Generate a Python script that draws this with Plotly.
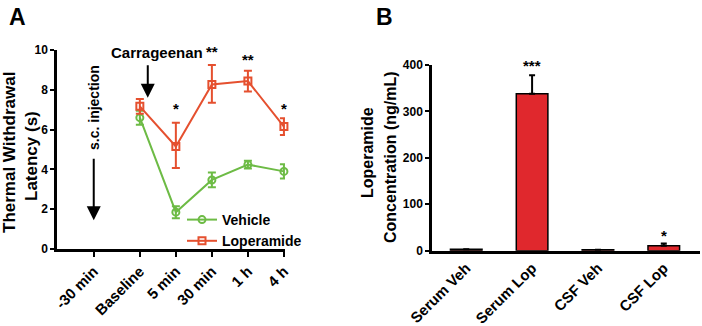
import plotly.graph_objects as go

# ---------------- data ----------------
time_labels = ["-30 min", "Baseline", "5 min", "30 min", "1 h", "4 h"]
time_pos = [-1.28, 0, 1, 2, 3, 4]

veh_time = ["Baseline", "5 min", "30 min", "1 h", "4 h"]
veh_pos = [0, 1, 2, 3, 4]
vehicle = [6.6, 1.85, 3.47, 4.24, 3.9]
vehicle_err = [0.35, 0.3, 0.37, 0.2, 0.36]

loperamide = [7.17, 5.15, 8.27, 8.44, 6.15]
lop_err_plus = [0.37, 1.2, 0.98, 0.52, 0.42]
lop_err_minus = [0.37, 1.08, 0.92, 0.52, 0.42]

stars_a = ["", "*", "**", "**", "*"]
stars_a_y = [0, 7.05, 9.9, 9.5, 7.05]

bar_cats = ["Serum Veh", "Serum Lop", "CSF Veh", "CSF Lop"]
bar_vals = [3, 338, 2, 10.5]
bar_err = [0, 40, 0, 5]
stars_b = ["", "***", "", "*"]
stars_b_y = [0, 398, 0, 33]

# ---------------- style ----------------
W, H = 702, 326
RED = "#E5502F"
GREEN = "#6DBB45"
BAR = "#E0282D"
FONT = "Liberation Sans, Arial, sans-serif"

def px(x):
    return x / W

def py(y):
    return 1 - y / H

fig = go.Figure()

fig.add_trace(go.Scatter(
    x=veh_pos, y=vehicle, name="Vehicle", mode="lines+markers",
    line=dict(color=GREEN, width=2),
    marker=dict(symbol="circle-open", size=7, color=GREEN, line=dict(width=2)),
    error_y=dict(type="data", array=vehicle_err, color=GREEN, thickness=2, width=4),
    xaxis="x", yaxis="y", cliponaxis=False,
))
fig.add_trace(go.Scatter(
    x=veh_pos, y=loperamide, name="Loperamide", mode="lines+markers",
    line=dict(color=RED, width=2),
    marker=dict(symbol="square-open", size=7, color=RED, line=dict(width=2)),
    error_y=dict(type="data", symmetric=False, array=lop_err_plus,
                 arrayminus=lop_err_minus, color=RED, thickness=2, width=4),
    xaxis="x", yaxis="y", cliponaxis=False,
))

fig.add_trace(go.Bar(
    x=list(range(len(bar_cats))), y=bar_vals, width=0.48,
    marker=dict(color=BAR, line=dict(color="black", width=1.5)),
    error_y=dict(type="data", symmetric=False, array=bar_err,
                 arrayminus=[0] * len(bar_err), color="black", thickness=2, width=3),
    xaxis="x2", yaxis="y2", showlegend=False, cliponaxis=False,
))

axis_common = dict(showline=True, linecolor="black", linewidth=2.5, showgrid=False,
                   zeroline=False, ticks="outside", tickcolor="black", tickwidth=2,
                   automargin=False,
                   tickfont=dict(family=FONT, size=12, color="black", weight="bold"))

fig.update_layout(
    template="none",
    width=W, height=H, margin=dict(l=0, r=0, t=0, b=0, autoexpand=False),
    paper_bgcolor="white", plot_bgcolor="white",
    font=dict(family=FONT, color="black"),
    xaxis=dict(axis_common, domain=[px(57), px(285)], range=[-2.3, 4.03],
               tickvals=time_pos, ticktext=time_labels, tickangle=-45, ticklen=5,
               tickfont=dict(family=FONT, size=15, color="black", weight="bold"),
               anchor="y"),
    yaxis=dict(axis_common, domain=[py(249), py(50)], range=[0, 10],
               tickvals=[0, 2, 4, 6, 8, 10], ticklen=4, anchor="x"),
    xaxis2=dict(axis_common, domain=[px(432), px(700)], range=[-0.52, 3.55],
                tickvals=list(range(len(bar_cats))), ticktext=bar_cats, tickangle=-45,
                ticks="", tickfont=dict(family=FONT, size=15, color="black", weight="bold"),
                anchor="y2"),
    yaxis2=dict(axis_common, domain=[py(250.7), py(65)], range=[0, 400],
                tickvals=[0, 100, 200, 300, 400], ticklen=4, anchor="x2"),
    legend=dict(x=px(182), y=py(204), xanchor="left", yanchor="top",
                bgcolor="rgba(0,0,0,0)", tracegroupgap=0, itemwidth=30,
                font=dict(family=FONT, size=14, color="black", weight="bold")),
    showlegend=True,
)

ann = []
def text(x, y, s, size, xref="paper", yref="paper", angle=0, **kw):
    ann.append(dict(x=x, y=y, xref=xref, yref=yref, text=s, showarrow=False,
                    xanchor="center", yanchor="middle",
                    textangle=angle, font=dict(family=FONT, size=size, color="black",
                                               weight="bold"), **kw))

# panel labels
text(px(17), py(17), "A", 23)
text(px(384), py(17), "B", 23)

# axis titles
text(px(10), py(153), "Thermal Withdrawal", 17, angle=-90)
text(px(31), py(156), "Latency (s)", 17, angle=-90)
text(px(368), py(153), "Loperamide", 16, angle=-90)
text(px(390), py(157), "Concentration (ng/mL)", 16, angle=-90)

# panel A annotations
text(px(157), py(53), "Carrageenan", 15)
text(px(94), py(108), "s.c. injection", 14, angle=-90)
ann.append(dict(x=0.22, y=7.6, xref="x", yref="y", ax=0, ay=-34, showarrow=True,
                arrowhead=2, arrowsize=1.4, arrowwidth=2, arrowcolor="black", text=""))
ann.append(dict(x=-1.28, y=1.45, xref="x", yref="y", ax=0, ay=-63, showarrow=True,
                arrowhead=2, arrowsize=1.4, arrowwidth=2, arrowcolor="black", text=""))

for p, s, yy in zip(veh_pos, stars_a, stars_a_y):
    if s:
        text(p, yy, s, 15, xref="x", yref="y")
for i, (s, yy) in enumerate(zip(stars_b, stars_b_y)):
    if s:
        text(i, yy, s, 15, xref="x2", yref="y2")

fig.update_layout(annotations=ann)
fig.write_html("out.html", config={"displayModeBar": False},
               post_script="document.body.style.margin='0px';")
